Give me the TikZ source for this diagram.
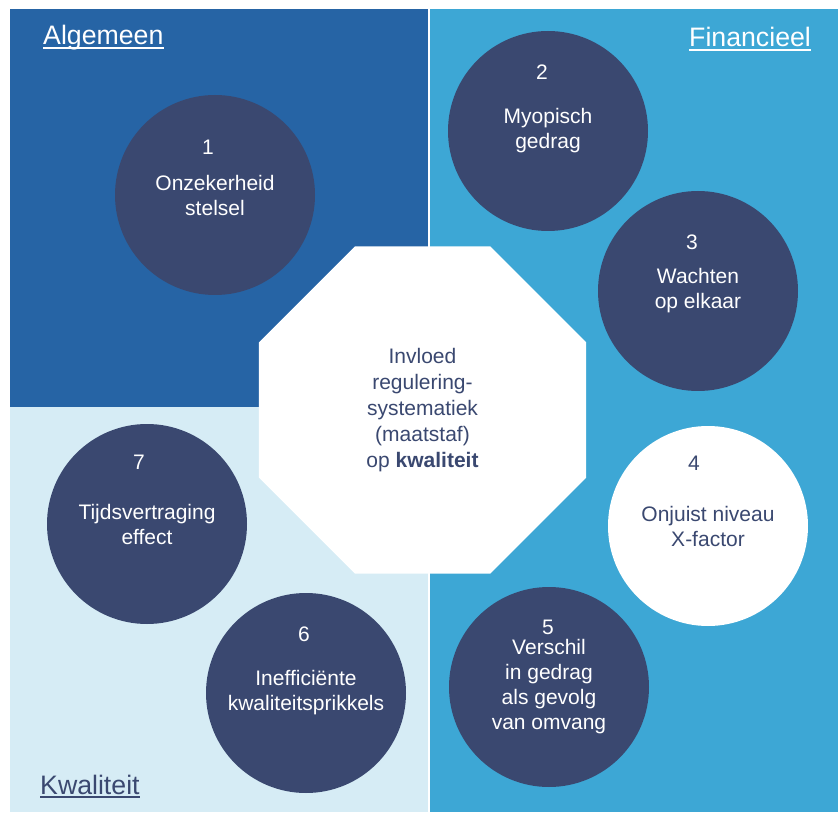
\documentclass[tikz,border=0pt]{standalone}
\usepackage{fontspec}
\setmainfont{Liberation Sans}
\usetikzlibrary{shapes.geometric}

\definecolor{algblue}{RGB}{38,100,165}
\definecolor{finblue}{RGB}{61,167,213}
\definecolor{kwablue}{RGB}{214,236,245}
\definecolor{navy}{RGB}{58,72,112}

\tikzset{
  factor/.style={circle, fill=navy, text=white, minimum size=200pt, inner sep=0pt,
    align=center, font=\fontsize{21}{25}\selectfont},
  factorwhite/.style={factor, fill=white, text=navy},
  num/.style={inner sep=0pt, text=white, font=\fontsize{21}{25}\selectfont},
  title/.style={anchor=base west, inner sep=0pt, font=\fontsize{26.7}{32}\selectfont},
  uline/.style={line width=1.8pt}
}

\begin{document}
\begin{tikzpicture}[x=1pt,y=-1pt]
\useasboundingbox (0,0) rectangle (839,813);

% quadrants
\fill[algblue] (10,9) rectangle (428,407);
\fill[finblue] (430,9) rectangle (838,812);
\fill[kwablue] (10,407) rectangle (428,812);

% titles
\node[title, text=white] (alg) at (43,45) {Algemeen};
\node[title, text=white] (fin) at (689,47) {Financieel};
\node[title, text=navy] (kwa) at (40,794) {Kwaliteit};
\draw[uline, white] ([yshift=-3pt]alg.base west) -- ([yshift=-3pt]alg.base east);
\draw[uline, white] ([yshift=-3pt]fin.base west) -- ([yshift=-3pt]fin.base east);
\draw[uline, navy] ([yshift=-3pt]kwa.base west) -- ([yshift=-3pt]kwa.base east);

% centre
\node[regular polygon, regular polygon sides=8, fill=white, minimum size=354pt,
  align=center, text=navy, font=\fontsize{21}{26}\selectfont] (centre) at (422.5,410)
  {Invloed\\regulering-\\systematiek\\(maatstaf)\\op \textbf{kwaliteit}};

% factors
\node[factor] (f1) at (215,195) {Onzekerheid\\stelsel};
\node[factor] (f2) at (548,131) {Myopisch\\gedrag};
\node[factor] (f3) at (698,291) {Wachten\\op elkaar};
\node[factorwhite] (f4) at (708,526) {Onjuist niveau\\X-factor};
\node[factor] (f5) at (549,687) {Verschil\\in gedrag\\als gevolg\\van omvang};
\node[factor] (f6) at (306,693) {Inefficiënte\\kwaliteitsprikkels};
\node[factor] (f7) at (147,524) {Tijdsvertraging\\effect};

\node[num] (n1) at (208,147) {1};
\node[num] (n2) at (542,72) {2};
\node[num] (n3) at (692,242) {3};
\node[num, text=navy] (n4) at (694,463) {4};
\node[num] (n5) at (548,627) {5};
\node[num] (n6) at (304,634) {6};
\node[num] (n7) at (139,462) {7};

\end{tikzpicture}
\end{document}
